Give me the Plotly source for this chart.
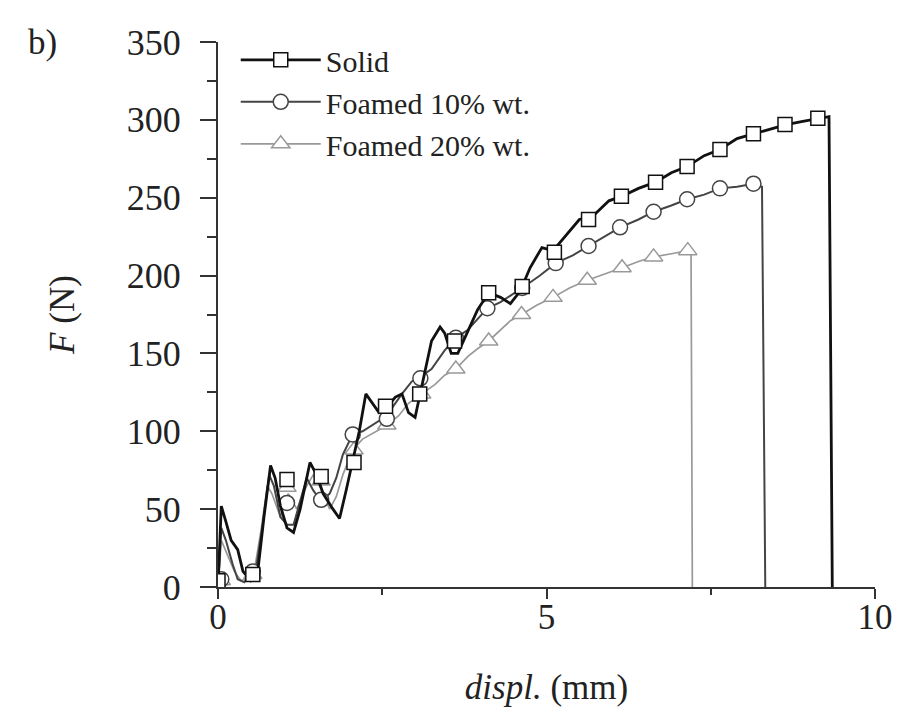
import plotly.graph_objects as go

# ---- data ----
solid_x = [0, 0.05, 0.12, 0.2, 0.3, 0.38, 0.5, 0.6, 0.7, 0.8, 0.87, 0.95, 1.05, 1.15, 1.25, 1.4, 1.5, 1.6, 1.75, 1.85,
           1.95, 2.05, 2.15, 2.25, 2.35, 2.45, 2.58, 2.7, 2.8, 2.9, 3.0, 3.1, 3.25, 3.38, 3.45, 3.55, 3.65, 3.8, 3.95,
           4.12, 4.3, 4.45, 4.6, 4.75, 4.93, 5.1, 5.3, 5.5, 5.7, 5.95, 6.15, 6.4, 6.66, 6.9, 7.14, 7.4, 7.64, 7.9,
           8.15, 8.4, 8.65, 8.9, 9.15, 9.3, 9.35]
solid_y = [0, 52, 42, 30, 24, 10, 4, 8, 45, 78, 70, 52, 38, 35, 50, 80, 72, 60, 50, 44,
           62, 80, 100, 124, 118, 112, 116, 122, 124, 112, 109, 128, 158, 167, 163, 150, 150, 164, 178,
           189, 186, 182, 190, 205, 218, 216, 226, 236, 238, 248, 251, 256, 260, 266, 270, 277, 281, 288,
           291, 294, 297, 299, 301, 302, 0]

f10_x = [0, 0.05, 0.12, 0.22, 0.3, 0.4, 0.5, 0.58, 0.68, 0.78, 0.85, 0.95, 1.05, 1.15, 1.25, 1.35, 1.45, 1.57,
         1.7, 1.8, 1.9, 2.05, 2.2, 2.35, 2.5, 2.65, 2.8, 2.95, 3.08, 3.25, 3.45, 3.62, 3.8, 3.95, 4.1, 4.3,
         4.45, 4.63, 4.9, 5.14, 5.4, 5.64, 5.9, 6.12, 6.4, 6.63, 6.9, 7.14, 7.4, 7.64, 7.9, 8.15, 8.28, 8.33]
f10_y = [0, 38, 30, 15, 5, 3, 10, 12, 40, 72, 65, 45, 40, 40, 55, 70, 62, 55,
         60, 70, 85, 98, 100, 104, 108, 115, 124, 132, 135, 140, 152, 160, 165, 172, 179, 183,
         187, 192, 200, 208, 213, 219, 225, 231, 236, 241, 245, 249, 252, 256, 257, 259, 257, 0]

f20_x = [0, 0.05, 0.15, 0.25, 0.35, 0.45, 0.55, 0.65, 0.75, 0.82, 0.95, 1.07, 1.2, 1.35, 1.45, 1.57, 1.7, 1.8,
         1.9, 2.05, 2.2, 2.4, 2.58, 2.75, 2.9, 3.1, 3.3, 3.45, 3.62, 3.8, 3.95, 4.12, 4.3, 4.45, 4.62, 4.85,
         5.1, 5.35, 5.62, 5.9, 6.15, 6.4, 6.63, 6.9, 7.15, 7.2, 7.22]
f20_y = [0, 30, 20, 10, 4, 6, 10, 35, 65, 60, 45, 60, 50, 65, 72, 63, 50, 58,
         72, 88, 95, 100, 104, 110, 118, 124, 130, 136, 140, 148, 153, 158, 165, 171, 175, 181,
         186, 192, 197, 201, 205, 209, 212, 214, 216, 215, 0]

# marker positions
solid_mx = [0, 0.53, 1.05, 1.57, 2.07, 2.55, 3.07, 3.6, 4.12, 4.63, 5.12, 5.64, 6.14, 6.66, 7.14, 7.64, 8.15, 8.63, 9.13]
solid_my = [4, 8, 69, 71, 80, 116, 124, 158, 189, 193, 215, 236, 251, 260, 270, 281, 291, 297, 301]
f10_mx = [0.05, 0.53, 1.05, 1.57, 2.05, 2.57, 3.08, 3.62, 4.1, 4.63, 5.14, 5.64, 6.12, 6.63, 7.14, 7.64, 8.15]
f10_my = [5, 10, 54, 56, 98, 108, 134, 160, 179, 192, 208, 219, 231, 241, 249, 256, 259]
f20_mx = [0.05, 0.53, 1.05, 1.57, 2.07, 2.57, 3.1, 3.62, 4.12, 4.62, 5.1, 5.62, 6.15, 6.63, 7.15]
f20_my = [4, 8, 64, 68, 88, 104, 124, 140, 158, 175, 186, 197, 205, 212, 216]

names = ["Solid", "Foamed 10% wt.", "Foamed 20% wt."]
colors = ["#111111", "#444444", "#999999"]
widths = [2.8, 2.0, 1.7]
symbols = ["square", "circle", "triangle-up"]
msizes = [14, 15, 16]

FONT = "Liberation Serif, Times New Roman, serif"
TXT = "#222222"

fig = go.Figure()
series = [(solid_x, solid_y, solid_mx, solid_my),
          (f10_x, f10_y, f10_mx, f10_my),
          (f20_x, f20_y, f20_mx, f20_my)]

# draw in reverse so solid is on top
for i in [2, 1, 0]:
    lx, ly, mx, my = series[i]
    fig.add_trace(go.Scatter(x=lx, y=ly, mode="lines", showlegend=False,
                             line=dict(color=colors[i], width=widths[i]), hoverinfo="skip"))
    fig.add_trace(go.Scatter(x=mx, y=my, mode="markers", showlegend=False,
                             marker=dict(symbol=symbols[i], size=msizes[i], color="white",
                                         line=dict(color=colors[i], width=1.5))))
for i in range(3):
    fig.add_trace(go.Scatter(x=[None], y=[None], mode="lines+markers", name=names[i],
                             line=dict(color=colors[i], width=widths[i]),
                             marker=dict(symbol=symbols[i], size=msizes[i], color="white",
                                         line=dict(color=colors[i], width=1.5))))

fig.update_layout(
    width=901, height=719,
    paper_bgcolor="white", plot_bgcolor="white",
    margin=dict(l=210, r=34, t=34, b=140, autoexpand=False),
    font=dict(family=FONT, size=34, color=TXT),
    legend=dict(x=0.027, y=1.015, xanchor="left", yanchor="top", bgcolor="rgba(0,0,0,0)",
                font=dict(family=FONT, size=30, color=TXT), itemwidth=80, tracegroupgap=0,
                traceorder="normal"),
    showlegend=True,
)
fig.update_xaxes(range=[0, 10], tickvals=[0, 5, 10], ticktext=["0", "5", "10"], automargin=False,
                 showgrid=False, zeroline=False, showline=True, linecolor="#333", linewidth=2,
                 ticks="outside", ticklen=10, tickwidth=2, tickcolor="#333",
                 minor=dict(tickvals=[2.5, 7.5], ticks="outside", ticklen=6, tickwidth=2, tickcolor="#333"),
                 tickfont=dict(family=FONT, size=35, color=TXT), ticklabelstandoff=-12,
                 title=dict(text="<i>displ.</i> (mm)", font=dict(family=FONT, size=35, color=TXT), standoff=38))
fig.update_yaxes(range=[0, 350], tickvals=[0, 50, 100, 150, 200, 250, 300, 350], automargin=False,
                 showgrid=False, zeroline=False, showline=True, linecolor="#333", linewidth=2,
                 ticks="outside", ticklen=16, tickwidth=2, tickcolor="#333",
                 minor=dict(tickvals=[25, 75, 125, 175, 225, 275, 325], ticks="outside", ticklen=9,
                            tickwidth=2, tickcolor="#333"),
                 tickfont=dict(family=FONT, size=36, color=TXT), ticklabelstandoff=12,
                 title=dict(text="<i>F</i> (N)", font=dict(family=FONT, size=35, color=TXT), standoff=42))

fig.add_annotation(text="b)", xref="paper", yref="paper", x=-0.267, y=1.0, xanchor="center", yanchor="middle",
                   showarrow=False, font=dict(family=FONT, size=35, color=TXT))

fig.write_html("out.html")
